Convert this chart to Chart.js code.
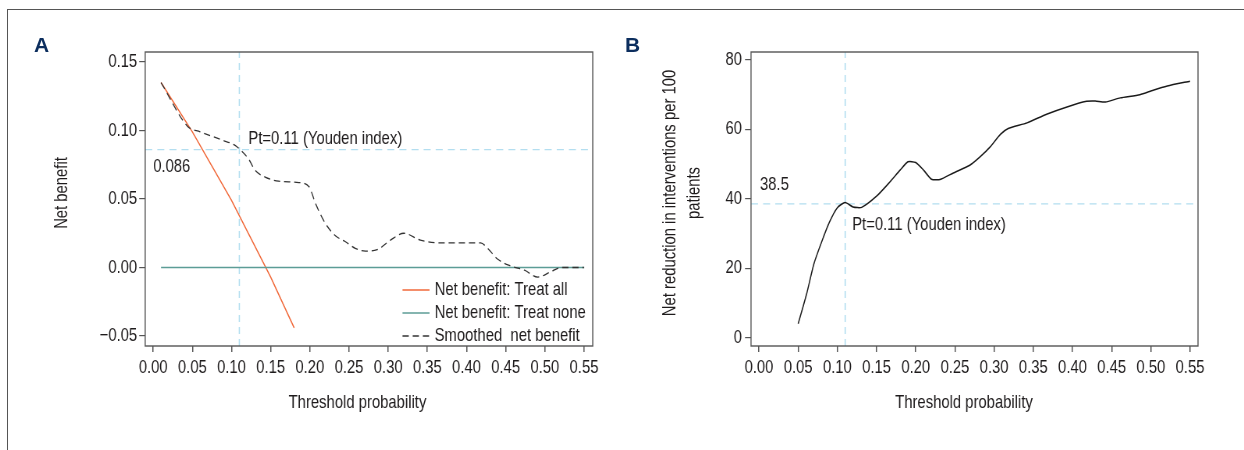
<!DOCTYPE html>
<html lang="en">
<head>
<meta charset="UTF-8" />
<title>Decision curve analysis</title>
<script src="https://cdn.jsdelivr.net/npm/chart.js"></script>
<style>
  body { margin: 0; background: #fff; }
  #wrap { position: relative; width: 1244px; height: 450px; overflow: hidden; }
  .frame { position: absolute; left: 7px; top: 9px; width: 1250px; height: 450px; border-top: 1px solid #555; border-left: 1px solid #555; }
  /* the canvases are drawn wide and squeezed horizontally, which gives a condensed type face */
  .panel { position: absolute; top: 0; height: 450px; transform: scaleX(0.78); transform-origin: 0 0; }
  .letter { position: absolute; top: 34px; font: bold 21px/21px "Liberation Sans", Arial, sans-serif; color: #0c2e5e; }
</style>
</head>
<body>
<div id="wrap">
  <div class="frame"></div>
  <div class="panel" style="left:0;width:794.9px"><canvas id="chartA"></canvas></div>
  <div class="panel" style="left:620px;width:800px"><canvas id="chartB"></canvas></div>
  <div class="letter" style="left:34px">A</div>
  <div class="letter" style="left:625px">B</div>
</div>

<script>
// ---- Panel A: net benefit ----
const ptTreatAll = [0.01, 0.05, 0.10, 0.15, 0.18];
const nbTreatAll = [0.135, 0.099, 0.049, -0.007, -0.044];
const ptTreatNone = [0.01, 0.55];
const nbTreatNone = [0, 0];
const ptSmooth = [0.01, 0.044, 0.060, 0.088, 0.105, 0.111, 0.122, 0.130, 0.143, 0.160, 0.186, 0.199,
  0.207, 0.220, 0.233, 0.245, 0.258, 0.271, 0.286, 0.303, 0.320, 0.341, 0.367, 0.418, 0.427, 0.440,
  0.457, 0.474, 0.491, 0.508, 0.521, 0.55];
const nbSmooth = [0.135, 0.103, 0.099, 0.093, 0.089, 0.086, 0.079, 0.071, 0.066, 0.063, 0.062, 0.059,
  0.047, 0.032, 0.023, 0.019, 0.014, 0.012, 0.013, 0.020, 0.025, 0.020, 0.018, 0.018, 0.014, 0.006,
  0.001, -0.002, -0.007, -0.003, 0, 0];

// ---- Panel B: net reduction in interventions ----
const ptReduction = [0.05, 0.061, 0.070, 0.080, 0.090, 0.100, 0.110, 0.120, 0.131, 0.150, 0.167, 0.180,
  0.190, 0.200, 0.210, 0.220, 0.231, 0.248, 0.269, 0.282, 0.295, 0.308, 0.318, 0.342, 0.367, 0.393,
  0.418, 0.429, 0.442, 0.461, 0.486, 0.503, 0.521, 0.55];
const reduction = [4, 12.8, 21.2, 27.6, 33.3, 37.4, 38.9, 37.6, 37.5, 40.7, 44.8, 48.2,
  50.6, 50.4, 48.2, 45.6, 45.5, 47.4, 49.6, 52.0, 54.9, 58.5, 60.2, 61.8, 64.3, 66.4,
  68.0, 68.1, 67.8, 69.0, 69.9, 71.2, 72.4, 73.8];

// Youden cut-off
const youdenPt = 0.11;
const youdenNB = 0.086;
const youdenReduction = 38.5;

// ticks
const xTicks = [0, 0.05, 0.10, 0.15, 0.20, 0.25, 0.30, 0.35, 0.40, 0.45, 0.50, 0.55];
const xTickLabels = ['0.00', '0.05', '0.10', '0.15', '0.20', '0.25', '0.30', '0.35', '0.40', '0.45', '0.50', '0.55'];
const yTicksA = [-0.05, 0, 0.05, 0.10, 0.15];
const yTickLabelsA = ['\u22120.05', '0.00', '0.05', '0.10', '0.15'];
const yTicksB = [0, 20, 40, 60, 80];
const yTickLabelsB = ['0', '20', '40', '60', '80'];

const K = 0.78;              // horizontal squeeze used in the css
const FS = 19;
const FONT = '"Liberation Sans", Arial, sans-serif';
const TEXT = '#1e1b1c';
const AXIS = '#555';
const REF = '#b3def0';

const pts = (xs, ys) => xs.map((x, i) => ({ x: x, y: ys[i] }));

// frame, free texts and a small legend drawn inside the plot
const extras = {
  id: 'extras',
  afterDatasetsDraw(chart, args, o) {
    const { ctx, chartArea: a, scales } = chart;
    ctx.save();
    ctx.strokeStyle = AXIS;
    ctx.lineWidth = 1.4;
    ctx.strokeRect(a.left, a.top, a.right - a.left, a.bottom - a.top);

    ctx.fillStyle = TEXT;
    ctx.font = FS + 'px ' + FONT;
    ctx.textBaseline = 'middle';
    ctx.textAlign = 'left';
    (o.notes || []).forEach(n => {
      ctx.fillText(n.text, scales.x.getPixelForValue(n.x) + n.dx / K, scales.y.getPixelForValue(n.y) + n.dy);
    });

    ctx.textAlign = 'center';
    (o.titles || []).forEach(t => {
      ctx.save();
      ctx.translate(t.cx / K, t.cy);
      if (t.rotate) {
        ctx.rotate(-Math.PI / 2);
        ctx.scale(K, 1 / K);
      }
      t.lines.forEach((line, i) => ctx.fillText(line, 0, i * 24));
      ctx.restore();
    });

    if (o.legend) {
      const L = o.legend;
      let row = 0;
      chart.data.datasets.forEach(ds => {
        if (!ds.label) return;
        const y = L.y + row * 23;
        const x = L.x / K;
        ctx.beginPath();
        ctx.strokeStyle = ds.borderColor;
        ctx.lineWidth = ds.borderWidth;
        ctx.setLineDash(ds.borderDash || []);
        ctx.moveTo(x, y);
        ctx.lineTo(x + 27 / K, y);
        ctx.stroke();
        ctx.setLineDash([]);
        ctx.textAlign = 'left';
        ctx.fillText(ds.label, x + 32 / K, y);
        row++;
      });
    }
    ctx.restore();
  }
};

function axes(xMin, xMax, yMin, yMax, yTicks, yLabels, yWidth, yPad) {
  const gridX = { display: true, drawOnChartArea: false, drawTicks: true, tickLength: 6, color: AXIS, lineWidth: 1.5 };
  const gridY = { display: true, drawOnChartArea: false, drawTicks: true, tickLength: 6 / K, color: AXIS, lineWidth: 1.2 };
  return {
    x: {
      type: 'linear', min: xMin, max: xMax,
      border: { display: false }, grid: gridX,
      afterBuildTicks: s => { s.ticks = xTicks.map(v => ({ value: v })); },
      afterFit: s => { s.height = 104; },
      ticks: { autoSkip: false, maxRotation: 0, padding: 4, color: TEXT, font: { family: FONT, size: FS },
        callback: (v, i) => xTickLabels[i] }
    },
    y: {
      type: 'linear', min: yMin, max: yMax,
      border: { display: false }, grid: gridY,
      afterBuildTicks: s => { s.ticks = yTicks.map(v => ({ value: v })); },
      afterFit: s => { s.width = yWidth / K; },
      ticks: { autoSkip: false, padding: yPad / K, color: TEXT, font: { family: FONT, size: FS },
        callback: (v, i) => yLabels[i] }
    }
  };
}

const yMinA = -0.0573, yMaxA = 0.1573;
new Chart(document.getElementById('chartA'), {
  type: 'line',
  data: {
    datasets: [
      { label: 'Net benefit: Treat all', data: pts(ptTreatAll, nbTreatAll), borderColor: '#f0693a', borderWidth: 1.5, order: 3 },
      { label: 'Net benefit: Treat none', data: pts(ptTreatNone, nbTreatNone), borderColor: '#5c9d96', borderWidth: 1.7, order: 2 },
      { label: 'Smoothed  net benefit', data: pts(ptSmooth, nbSmooth), borderColor: '#333', borderWidth: 1.3,
        borderDash: [8, 5], cubicInterpolationMode: 'monotone', order: 1 },
      { data: pts([youdenPt, youdenPt], [yMinA, yMaxA]), borderColor: REF, borderWidth: 1.6, borderDash: [7, 5], order: 4 },
      { data: pts([-0.0102, 0.5612], [youdenNB, youdenNB]), borderColor: REF, borderWidth: 1.3, borderDash: [9, 6.5], order: 4 }
    ]
  },
  options: {
    responsive: true, maintainAspectRatio: false, animation: false,
    elements: { point: { radius: 0 }, line: { fill: false } },
    layout: { padding: { left: 0, top: 52, right: 28 / K, bottom: 0 } },
    scales: axes(-0.0102, 0.5612, yMinA, yMaxA, yTicksA, yTickLabelsA, 145, 2),
    plugins: {
      legend: { display: false }, tooltip: { enabled: false },
      extras: {
        notes: [
          { text: 'Pt=0.11 (Youden index)', x: youdenPt, y: youdenNB, dx: 9, dy: -11 },
          { text: '0.086', x: 0, y: youdenNB, dx: 0, dy: 17 }
        ],
        titles: [
          { lines: ['Threshold probability'], cx: 357, cy: 403 },
          { lines: ['Net benefit'], cx: 62, cy: 193, rotate: true }
        ],
        legend: { x: 402, y: 290 }
      }
    }
  },
  plugins: [extras]
});

const yMinB = -2.4, yMaxB = 82.2;
new Chart(document.getElementById('chartB'), {
  type: 'line',
  data: {
    datasets: [
      { data: pts(ptReduction, reduction), borderColor: '#1a1a1a', borderWidth: 1.5, tension: 0.2, order: 1 },
      { data: pts([youdenPt, youdenPt], [yMinB, yMaxB]), borderColor: REF, borderWidth: 1.6, borderDash: [7, 5], order: 2 },
      { data: pts([-0.0102, 0.5602], [youdenReduction, youdenReduction]), borderColor: REF, borderWidth: 1.3, borderDash: [9, 6.5], order: 2 }
    ]
  },
  options: {
    responsive: true, maintainAspectRatio: false, animation: false,
    elements: { point: { radius: 0 }, line: { fill: false } },
    layout: { padding: { left: 0, top: 52, right: 46 / K, bottom: 0 } },
    scales: axes(-0.0102, 0.5602, yMinB, yMaxB, yTicksB, yTickLabelsB, 131, 3),
    plugins: {
      legend: { display: false }, tooltip: { enabled: false },
      extras: {
        notes: [
          { text: '38.5', x: 0, y: youdenReduction, dx: 1, dy: -19 },
          { text: 'Pt=0.11 (Youden index)', x: youdenPt, y: youdenReduction, dx: 7, dy: 21 }
        ],
        titles: [
          { lines: ['Threshold probability'], cx: 344, cy: 403 },
          { lines: ['Net reduction in interventions per 100', 'patients'], cx: 50, cy: 193, rotate: true }
        ]
      }
    }
  },
  plugins: [extras]
});
</script>
</body>
</html>
